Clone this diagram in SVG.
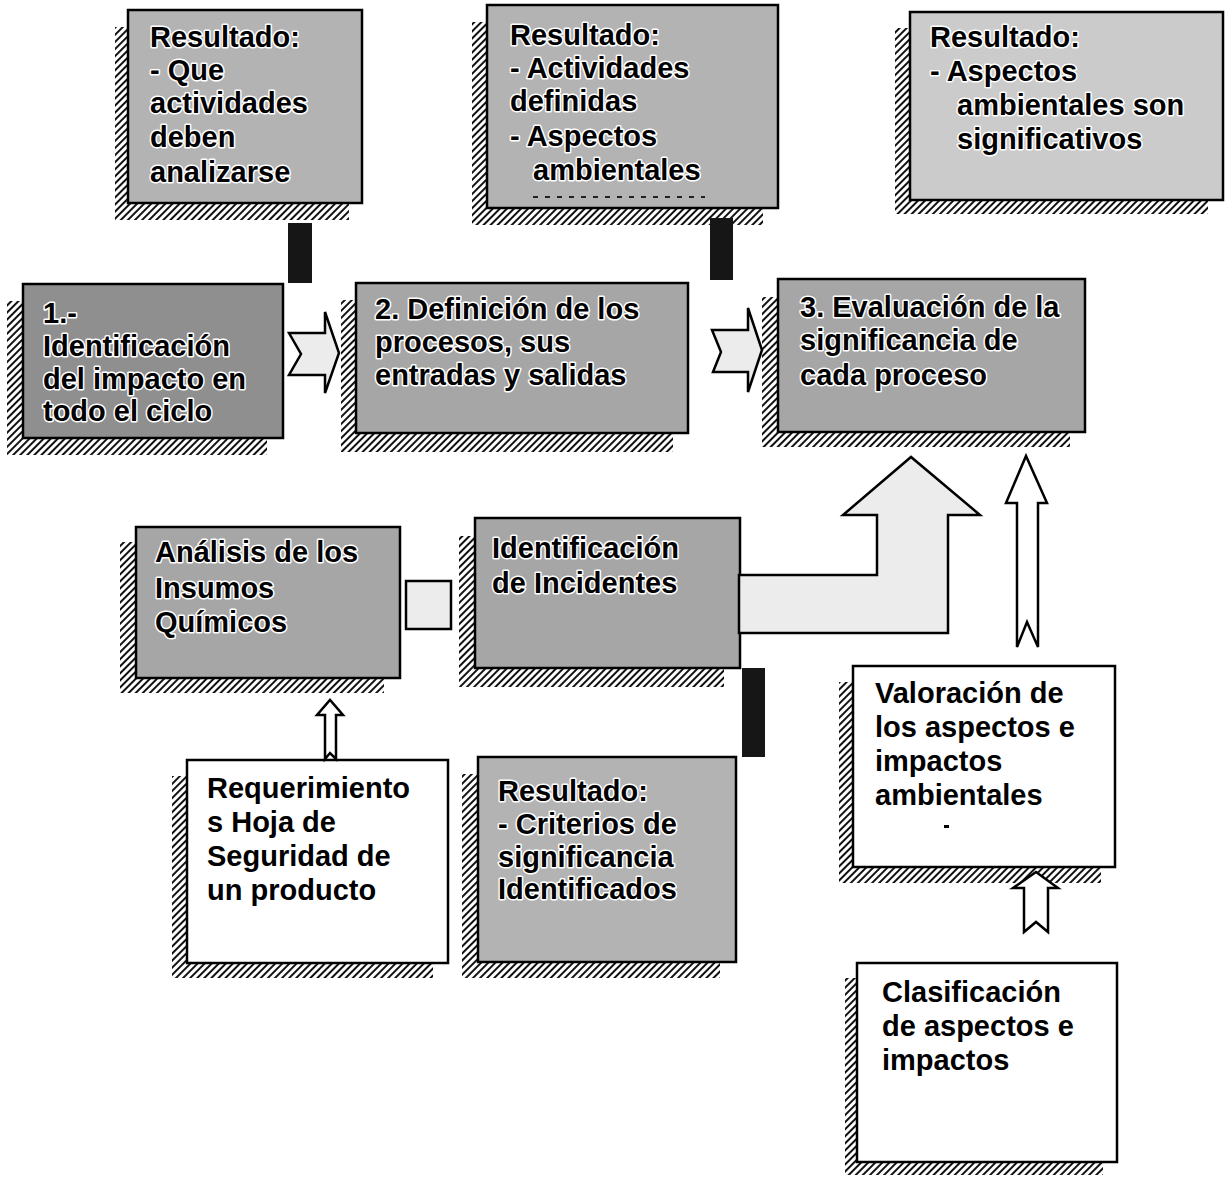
<svg xmlns="http://www.w3.org/2000/svg" width="1225" height="1177" viewBox="0 0 1225 1177">
<defs>
<pattern id="hatch" patternUnits="userSpaceOnUse" width="5" height="5" patternTransform="rotate(45)">
<rect x="0" y="0" width="5" height="5" fill="#fff"/>
<rect x="0" y="0" width="2" height="5" fill="#111"/>
</pattern>
<style>
.sh{fill:url(#hatch);}
.bx{stroke:#000;stroke-width:2.5;}
.g1{fill:#8f8f8f;}
.g2{fill:#a6a6a6;}
.g3{fill:#b3b3b3;}
.g4{fill:#cbcbcb;}
.wt{fill:#fff;}
.t{font-family:"Liberation Sans",Arial,Helvetica,sans-serif;font-weight:bold;font-size:29px;fill:#000;}
.h{stroke:#fff;stroke-width:3;paint-order:stroke;stroke-linejoin:round;}
.blk{fill:#161616;}
.ar{fill:#ececec;stroke:#000;stroke-width:2.5;stroke-linejoin:miter;}
.arw{fill:#fff;stroke:#000;stroke-width:2.5;stroke-linejoin:miter;}
</style>
</defs>
<rect width="1225" height="1177" fill="#fff"/>

<g id="res1">
<rect class="sh" x="115" y="27" width="234" height="193"/>
<rect class="bx g3" x="128" y="10" width="234" height="193"/>
<text class="t h"><tspan x="150" y="47">Resultado:</tspan><tspan x="150" y="80">- Que</tspan><tspan x="150" y="113">actividades</tspan><tspan x="150" y="147">deben</tspan><tspan x="150" y="182">analizarse</tspan></text>
</g>

<g id="res2">
<rect class="sh" x="472" y="22" width="291" height="203"/>
<rect class="bx g3" x="487" y="5" width="291" height="203"/>
<text class="t h"><tspan x="510" y="45">Resultado:</tspan><tspan x="510" y="78">- Actividades</tspan><tspan x="510" y="111">definidas</tspan><tspan x="510" y="146">- Aspectos</tspan><tspan x="533" y="180">ambientales</tspan></text>
<line x1="533" y1="197" x2="705" y2="197" stroke="#222" stroke-width="2" stroke-dasharray="5 7"/>
</g>

<g id="res3">
<rect class="sh" x="895" y="28" width="313" height="186"/>
<rect class="bx g4" x="910" y="12" width="313" height="188"/>
<text class="t h"><tspan x="930" y="47">Resultado:</tspan><tspan x="930" y="81">- Aspectos</tspan><tspan x="957" y="115">ambientales son</tspan><tspan x="957" y="149">significativos</tspan></text>
</g>

<g id="step1">
<rect class="sh" x="7" y="301" width="260" height="154"/>
<rect class="bx g1" x="23" y="284" width="260" height="154"/>
<text class="t h"><tspan x="43" y="323">1.-</tspan><tspan x="43" y="356">Identificación</tspan><tspan x="43" y="389">del impacto en</tspan><tspan x="43" y="421">todo el ciclo</tspan></text>
</g>

<g id="step2">
<rect class="sh" x="341" y="300" width="332" height="152"/>
<rect class="bx g2" x="356" y="283" width="332" height="150"/>
<text class="t h"><tspan x="375" y="319">2. Definición de los</tspan><tspan x="375" y="352">procesos, sus</tspan><tspan x="375" y="385">entradas y salidas</tspan></text>
</g>

<g id="step3">
<rect class="sh" x="762" y="297" width="308" height="150"/>
<rect class="bx g2" x="778" y="279" width="307" height="153"/>
<text class="t h"><tspan x="800" y="317">3. Evaluación de la</tspan><tspan x="800" y="350">significancia de</tspan><tspan x="800" y="385">cada proceso</tspan></text>
</g>

<g id="analisis">
<rect class="sh" x="120" y="542" width="264" height="151"/>
<rect class="bx g2" x="136" y="527" width="264" height="151"/>
<text class="t h"><tspan x="155" y="562">Análisis de los</tspan><tspan x="155" y="598">Insumos</tspan><tspan x="155" y="632">Químicos</tspan></text>
</g>

<g id="incidentes">
<rect class="sh" x="459" y="536" width="265" height="151"/>
<rect class="bx g2" x="475" y="518" width="265" height="150"/>
<text class="t h"><tspan x="492" y="558">Identificación</tspan><tspan x="492" y="593">de Incidentes</tspan></text>
</g>

<g id="requerimiento">
<rect class="sh" x="172" y="776" width="261" height="202"/>
<rect class="bx wt" x="187" y="760" width="261" height="203"/>
<text class="t"><tspan x="207" y="798">Requerimiento</tspan><tspan x="207" y="832">s Hoja de</tspan><tspan x="207" y="866">Seguridad de</tspan><tspan x="207" y="900">un producto</tspan></text>
</g>

<g id="criterios">
<rect class="sh" x="462" y="774" width="258" height="204"/>
<rect class="bx g3" x="478" y="757" width="258" height="205"/>
<text class="t h"><tspan x="498" y="801">Resultado:</tspan><tspan x="498" y="834">- Criterios de</tspan><tspan x="498" y="867">significancia</tspan><tspan x="498" y="899">Identificados</tspan></text>
</g>

<g id="valoracion">
<rect class="sh" x="839" y="682" width="262" height="201"/>
<rect class="bx wt" x="853" y="666" width="262" height="201"/>
<text class="t"><tspan x="875" y="703">Valoración de</tspan><tspan x="875" y="737">los aspectos e</tspan><tspan x="875" y="771">impactos</tspan><tspan x="875" y="805">ambientales</tspan></text>
<rect x="944" y="825" width="5" height="3" fill="#000"/>
</g>

<g id="clasificacion">
<rect class="sh" x="845" y="978" width="258" height="197"/>
<rect class="bx wt" x="857" y="963" width="260" height="199"/>
<text class="t"><tspan x="882" y="1002">Clasificación</tspan><tspan x="882" y="1036">de aspectos e</tspan><tspan x="882" y="1070">impactos</tspan></text>
</g>

<g id="connectors">
<rect class="blk" x="288" y="223" width="24" height="60"/>
<rect class="blk" x="710" y="218" width="23" height="62"/>
<rect class="blk" x="742" y="668" width="23" height="89"/>
<path class="ar" d="M289,333 L325,333 L325,312 L339,353 L325,393 L325,375 L289,375 L301,354 Z"/>
<path class="ar" d="M712,330 L748,330 L748,308 L762,350 L748,392 L748,372 L713,372 L721,352 Z"/>
<rect class="ar" x="406" y="581" width="45" height="48"/>
<path class="ar" d="M739,575 L877,575 L877,515 L843,515 L911,457 L980,515 L948,515 L948,633 L739,633 Z"/>
<path class="arw" d="M1017,647 L1017,503 L1006,503 L1026,456 L1047,503 L1038,503 L1038,647 L1027,622 Z"/>
<path class="arw" d="M1024,932 L1024,888 L1013,888 L1036,872 L1058,888 L1048,888 L1048,932 L1036,922 Z"/>
<path class="arw" d="M325,759 L325,715 L317,715 L330,700 L343,715 L336,715 L336,759 L330,753 Z"/>
</g>
</svg>
